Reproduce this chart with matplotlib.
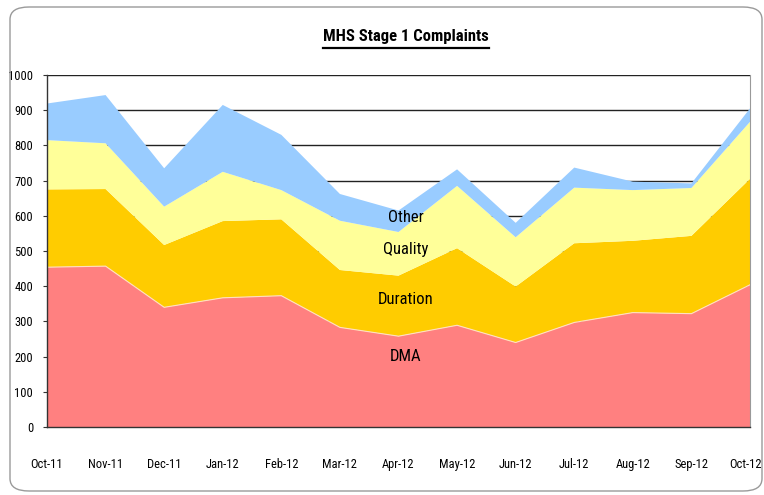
#!/usr/bin/env python
import numpy as np
import matplotlib
matplotlib.use("Agg")
import matplotlib.pyplot as plt
import matplotlib.transforms as mtrans
from matplotlib import font_manager
from matplotlib.font_manager import FontProperties
from matplotlib.patches import FancyBboxPatch
from matplotlib.lines import Line2D

months = ["Oct-11", "Nov-11", "Dec-11", "Jan-12", "Feb-12", "Mar-12", "Apr-12",
          "May-12", "Jun-12", "Jul-12", "Aug-12", "Sep-12", "Oct-12"]

# values (each layer on its own)
dma      = [454, 457, 340, 367, 373, 283, 258, 289, 240, 297, 325, 322, 404]
duration = [221, 219, 177, 218, 217, 163, 172, 219, 159, 225, 204, 221, 301]
quality  = [140, 130, 109, 140,  83, 140, 124, 177, 140, 158, 144, 136, 162]
other    = [104, 137, 109, 190, 157,  76,  61,  47,  41,  57,  24,  13,  38]

series_names = ["DMA", "Duration", "Quality", "Other"]
colors = ["#FF8080", "#FFCC00", "#FFFF99", "#99CCFF"]


def find_narrow():
    # look for a condensed / narrow sans face, regular and bold
    narrow = [f for f in font_manager.fontManager.ttflist
              if f.stretch in ("condensed", "semi-condensed", "extra-condensed")
              or "Narrow" in f.name or "Condensed" in f.name]
    order = ["Liberation Sans Narrow", "Roboto Condensed", "DejaVu Sans",
             "Open Sans Condensed", "Noto Sans"]
    narrow.sort(key=lambda f: order.index(f.name) if f.name in order else 99)
    reg = bold = None
    for f in narrow:
        if "Italic" in f.fname or "Oblique" in f.fname or f.style != "normal":
            continue
        if reg is None and f.weight in (400, "normal", "regular"):
            reg = f
        if bold is None and f.weight in (700, "bold"):
            bold = f
    return reg, bold


reg, bold = find_narrow()
if reg is not None:
    fp = FontProperties(fname=reg.fname)
    fpb = FontProperties(fname=bold.fname) if bold is not None else FontProperties(fname=reg.fname, weight="bold")
    tick_size, lab_size, title_size = 9, 12, 12
else:
    fp = FontProperties(family="Liberation Sans")
    fpb = FontProperties(family="Liberation Sans", weight="bold")
    tick_size, lab_size, title_size = 8, 11, 10.5

fig = plt.figure(figsize=(7.64, 4.95), dpi=100)
W, H = 764.0, 495.0

# rounded outer frame
frame = FancyBboxPatch((10 / W, 4 / H), 752 / W, 484 / H,
                       boxstyle="round,pad=0,rounding_size=0.025",
                       transform=fig.transFigure, facecolor="none",
                       edgecolor="#9a9a9a", linewidth=1.0)
fig.patches.append(frame)

ax = fig.add_axes([47 / W, 1 - 427 / H, 703 / W, 352 / H])
x = np.arange(len(months))
ax.stackplot(x, dma, duration, quality, other, colors=colors,
             labels=series_names, linewidth=0, zorder=2)

# thin light edge between DMA and Duration as in the original
ax.plot(x, dma, color="#FFE0C0", linewidth=0.8, zorder=3)

ax.set_xlim(0, len(months) - 1)
ax.set_ylim(0, 1000)
ax.set_yticks(np.arange(0, 1001, 100))
ax.set_xticks(x)
ax.set_xticklabels(months)
ax.yaxis.grid(True, color="#222222", linewidth=1.0, zorder=1)
ax.set_axisbelow(True)

ax.tick_params(axis="y", length=3, pad=7, color="#333333")
ax.tick_params(axis="x", length=0, pad=22)
for t in ax.get_xticklabels() + ax.get_yticklabels():
    t.set_fontproperties(fp)
    t.set_fontsize(tick_size)

# nudge the last month label so it stays inside the frame
last = ax.get_xticklabels()[-1]
last.set_transform(last.get_transform() +
                   mtrans.ScaledTranslation(-4 / 100, 0, fig.dpi_scale_trans))

for side in ["left", "bottom"]:
    ax.spines[side].set_color("#333333")
    ax.spines[side].set_linewidth(1.0)
    ax.spines[side].set_zorder(4)
ax.spines["top"].set_visible(False)
ax.spines["right"].set_color("#999999")

# series names written in the chart
label_y = [199, 361, 503, 594]
for name, yv in zip(series_names, label_y):
    ax.text(6.12, yv, name, ha="center", va="center", fontproperties=fp,
            fontsize=lab_size, zorder=5)

title = fig.text(406 / W, 1 - 37 / H, "MHS Stage 1 Complaints", ha="center",
                 va="center", fontproperties=fpb, fontsize=title_size)

# underline the title
fig.canvas.draw()
bb = title.get_window_extent().transformed(fig.transFigure.inverted())
uy = bb.y0 - 3 / H
fig.add_artist(Line2D([bb.x0, bb.x1], [uy, uy], transform=fig.transFigure,
                      color="black", linewidth=1.6))

fig.savefig("out.png", dpi=100)
